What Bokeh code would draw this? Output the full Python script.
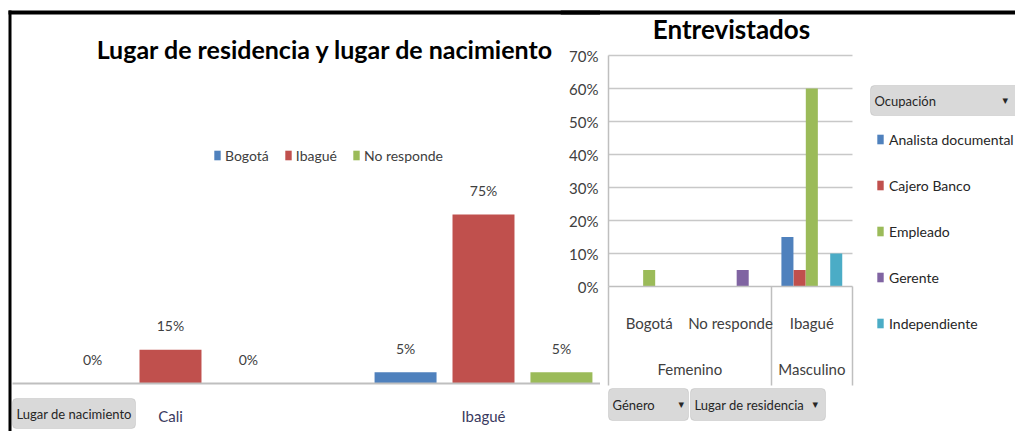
from bokeh.plotting import figure
from bokeh.models import (Range1d, LabelSet, Label, Legend, LegendItem, LinearAxis, Grid,
                          BoxAnnotation, FixedTicker, ColumnDataSource, NumeralTickFormatter)
from bokeh.core.properties import value
from bokeh.transform import dodge
from bokeh.layouts import row
from bokeh.embed import file_html
from bokeh.resources import INLINE

FONT = "Lato"
TXT = "#404040"

# ---------------- data: left chart ----------------
birth_places = ["Cali", "Ibagué"]
residence_series = ["Bogotá", "Ibagué", "No responde"]
res_bogota = [0.0, 0.05]
res_ibague = [0.15, 0.75]
res_no_responde = [0.0, 0.05]

# ---------------- data: right chart ----------------
genero = ["Femenino", "Masculino"]
genero_span = [2, 1]                      # residence categories under each gender
lugar_residencia = ["Bogotá", "No responde", "Ibagué"]
occupations = ["Analista documental", "Cajero Banco", "Empleado", "Gerente", "Independiente"]
analista = [0.0, 0.0, 0.15]
cajero = [0.0, 0.0, 0.05]
empleado = [0.05, 0.0, 0.60]
gerente = [0.0, 0.05, 0.0]
independiente = [0.0, 0.0, 0.10]
y_ticks = [0, 0.1, 0.2, 0.3, 0.4, 0.5, 0.6, 0.7]

COLORS = ["#4F81BD", "#C0504D", "#9BBB59", "#8064A2", "#4BACC6"]


def pct(vals):
    return [f"{round(v * 100)}%" for v in vals]


def sbox(l, r, b, t, **kw):
    return BoxAnnotation(left=l, right=r, bottom=b, top=t, left_units="screen", right_units="screen",
                         bottom_units="screen", top_units="screen", **kw)


def slabel(x, y, text, size="13px", **kw):
    opts = dict(text_baseline="middle", text_font=FONT, text_font_size=size, text_color="#262626")
    opts.update(kw)
    return Label(x=x, y=y, x_units="screen", y_units="screen", text=text, **opts)


def style_axis(ax, size="15px", color=TXT, standoff=10):
    ax.major_tick_line_color = None
    ax.minor_tick_line_color = None
    ax.major_tick_out = 0
    ax.major_tick_in = 0
    ax.minor_tick_out = 0
    ax.minor_tick_in = 0
    ax.major_label_standoff = standoff
    ax.major_label_text_font = FONT
    ax.major_label_text_font_size = size
    ax.major_label_text_color = color


BTN = dict(fill_color="#d9d9d9", fill_alpha=1, line_color="#a6a6a6", border_radius=4)
BLACK = dict(fill_color="black", fill_alpha=1, line_color=None)

# =============== LEFT FIGURE ===============
LX0, LX1 = -0.5431, 1.3738
lp = figure(width=600, height=431, x_range=Range1d(LX0, LX1), y_range=Range1d(-0.21305, 1.69996),
            output_backend="svg", toolbar_location=None, x_axis_location=None, y_axis_location=None,
            min_border_left=0, min_border_right=0, min_border_top=0, min_border_bottom=0)
lp.grid.visible = False
lp.outline_line_color = None
lp.background_fill_color = "white"
lp.border_fill_color = "white"

lsrc = ColumnDataSource(dict(
    xi=list(range(len(birth_places))),
    bogota=res_bogota, ibague=res_ibague, no_responde=res_no_responde,
    bogota_t=pct(res_bogota), ibague_t=pct(res_ibague), no_responde_t=pct(res_no_responde),
))
litems = []
for i, (col, name) in enumerate(zip(["bogota", "ibague", "no_responde"], residence_series)):
    off = (i - 1) * 0.249
    r = lp.vbar(x=dodge("xi", off, range=lp.x_range), top=col, width=0.198, source=lsrc,
                fill_color=COLORS[i], line_color=None)
    litems.append(LegendItem(label=name, renderers=[r]))
    lp.add_layout(LabelSet(x=dodge("xi", off, range=lp.x_range), y=col, text=col + "_t", source=lsrc,
                           y_offset=24, text_align="center", text_baseline="middle",
                           text_font=value(FONT), text_font_size=value("14px"), text_color=TXT))

lax = LinearAxis(fixed_location=0, bounds=(LX0 + 0.038, LX1),
                 ticker=FixedTicker(ticks=list(range(len(birth_places)))),
                 major_label_overrides={i: n for i, n in enumerate(birth_places)})
style_axis(lax, color="#3a3a60", standoff=24)
lax.axis_line_color = "#bfbfbf"
lax.axis_line_width = 2
lp.add_layout(lax, "below")

lleg = Legend(items=litems, orientation="horizontal", location=(213, 267), padding=0, margin=0,
              border_line_color=None, background_fill_alpha=0, glyph_width=8, glyph_height=12,
              label_standoff=4, spacing=15, label_height=18, label_text_font=FONT,
              label_text_font_size="14px", label_text_color=TXT)
lp.add_layout(lleg)

lp.add_layout(Label(x=325, y=383, x_units="screen", y_units="screen",
                    text="Lugar de residencia y lugar de nacimiento", text_align="center",
                    text_baseline="middle", text_font=FONT, text_font_size="25px",
                    text_font_style="bold", text_color="black"))

# pivot field button
lp.add_layout(sbox(12, 135, 3, 33, **BTN))
lp.add_layout(slabel(16, 18, "Lugar de nacimiento"))
# borders
lp.add_layout(sbox(8, 11, 0, 421, **BLACK))
lp.add_layout(sbox(8, 600, 417, 421, **BLACK))

# =============== RIGHT FIGURE ===============
n_res = len(lugar_residencia)
rp = figure(width=455, height=431, x_range=Range1d(-0.5902, 5.0043), y_range=Range1d(-0.43939, 0.86667),
            output_backend="svg", toolbar_location=None, x_axis_location=None, y_axis_location=None,
            min_border_left=0, min_border_right=0, min_border_top=0, min_border_bottom=0)
rp.grid.visible = False
rp.margin = (0, 0, 0, -40)
rp.background_fill_color = None
rp.border_fill_color = None
rp.outline_line_color = None

# horizontal gridlines limited to the plot area
grid_kw = dict(dimension=1, ticker=FixedTicker(ticks=y_ticks[1:]), grid_line_color="#c8c8c8",
               grid_line_width=1.5)
if "cross_bounds" in Grid.properties():
    rp.add_layout(Grid(cross_bounds=(0, n_res), **grid_kw))
else:
    rp.segment(x0=[0] * (len(y_ticks) - 1), x1=[n_res] * (len(y_ticks) - 1), y0=y_ticks[1:], y1=y_ticks[1:],
               line_color="#c8c8c8", line_width=1.5)

centers = [i + 0.5 for i in range(n_res)]
rsrc = ColumnDataSource(dict(xi=centers, analista=analista, cajero=cajero, empleado=empleado,
                             gerente=gerente, independiente=independiente))
ritems = []
for i, (col, name) in enumerate(zip(["analista", "cajero", "empleado", "gerente", "independiente"],
                                    occupations)):
    off = (i - 2) * 0.15
    r = rp.vbar(x=dodge("xi", off, range=rp.x_range), top=col, width=0.148, source=rsrc,
                fill_color=COLORS[i], line_color=None)
    ritems.append(LegendItem(label=name, renderers=[r]))

yax = LinearAxis(fixed_location=0, bounds=(0, y_ticks[-1]), ticker=FixedTicker(ticks=y_ticks),
                 formatter=NumeralTickFormatter(format="0%"))
style_axis(yax, standoff=10)
yax.axis_line_color = "#bfbfbf"
yax.axis_line_width = 1.5
rp.add_layout(yax, "left")

# group boundaries (box under the plot): minor ticks only, no labels
bounds_pos = [0]
for s in genero_span:
    bounds_pos.append(bounds_pos[-1] + s)
xbox = LinearAxis(fixed_location=0, bounds=(0, n_res),
                  ticker=FixedTicker(ticks=[], minor_ticks=bounds_pos))
style_axis(xbox)
xbox.major_label_text_color = None
xbox.axis_line_color = "#bfbfbf"
xbox.axis_line_width = 1.5
xbox.minor_tick_line_color = "#bfbfbf"
xbox.minor_tick_line_width = 1.5
xbox.minor_tick_out = 99
rp.add_layout(xbox, "below")

xax1 = LinearAxis(fixed_location=0, bounds=(0, n_res), ticker=FixedTicker(ticks=centers, minor_ticks=[]),
                  major_label_overrides={c: n for c, n in zip(centers, lugar_residencia)})
style_axis(xax1, standoff=27)
xax1.axis_line_color = None
rp.add_layout(xax1, "below")

g_centers = [(bounds_pos[k] + bounds_pos[k + 1]) / 2 for k in range(len(genero))]
xax2 = LinearAxis(fixed_location=0, bounds=(0, n_res), ticker=FixedTicker(ticks=g_centers, minor_ticks=[]),
                  major_label_overrides={c: n for c, n in zip(g_centers, genero)})
style_axis(xax2, standoff=73)
xax2.axis_line_color = None
rp.add_layout(xax2, "below")

rleg = Legend(items=ritems, orientation="vertical", location=(316, 98), padding=0, margin=0,
              border_line_color=None, background_fill_alpha=0, glyph_width=8, glyph_height=12,
              label_standoff=5, spacing=26, label_height=20, label_text_font=FONT,
              label_text_font_size="14px", label_text_color="#262626")
rp.add_layout(rleg)

rp.add_layout(Label(x=171, y=403, x_units="screen", y_units="screen", text="Entrevistados",
                    text_align="center", text_baseline="middle", text_font=FONT,
                    text_font_size="26px", text_font_style="bold", text_color="black"))

# pivot field buttons
rp.add_layout(sbox(48, 128, 11, 43, **BTN))
rp.add_layout(slabel(52, 27, "Género"))
rp.add_layout(slabel(118, 27, "▾", size="11px", text_font="DejaVu Sans"))
rp.add_layout(sbox(130, 265, 11, 43, **BTN))
rp.add_layout(slabel(134, 27, "Lugar de residencia"))
rp.add_layout(slabel(252, 27, "▾", size="11px", text_font="DejaVu Sans"))
rp.add_layout(sbox(310, 460, 316, 346, **BTN))
rp.add_layout(slabel(314, 331, "Ocupación"))
rp.add_layout(slabel(442, 331, "▾", size="11px", text_font="DejaVu Sans"))
# top border
rp.add_layout(sbox(0, 455, 417, 421, **BLACK))

layout = row(lp, rp)
open("out.html", "w").write(file_html(layout, INLINE, title="Lugar de residencia y lugar de nacimiento"))
